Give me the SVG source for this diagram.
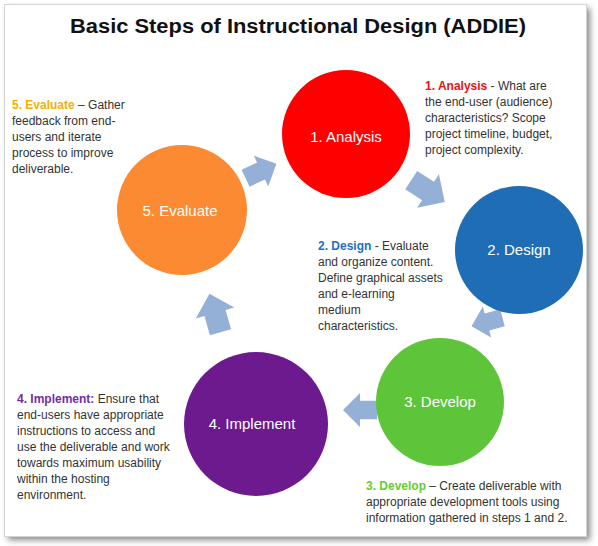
<svg xmlns="http://www.w3.org/2000/svg" width="598" height="546" viewBox="0 0 598 546">
<defs>
<filter id="sh" x="-5%" y="-5%" width="115%" height="115%"><feGaussianBlur stdDeviation="3"/></filter>
<path id="arr" d="M-20,-11 L0,-11 L0,-20 L20,0 L0,20 L0,11 L-20,11 Z"/>
</defs>
<style>
.t{font-family:"Liberation Sans",Arial,sans-serif;font-size:12px;fill:#333333}
.h{font-weight:bold}
.lbl{font-family:"Liberation Sans",Arial,sans-serif;font-size:15px;fill:#ffffff;text-anchor:middle}
.ar{fill:#95b0d6}
</style>
<rect width="598" height="546" fill="#ffffff"/>
<rect x="8" y="8" width="582" height="532" fill="#888888" filter="url(#sh)"/>
<rect x="4.5" y="4.5" width="582" height="532" fill="#ffffff" stroke="#d4d4d4"/>
<text x="298" y="33" text-anchor="middle" textLength="456" lengthAdjust="spacingAndGlyphs" style="font-family:'Liberation Sans',Arial,sans-serif;font-size:20px;font-weight:bold;fill:#111111">Basic Steps of Instructional Design (ADDIE)</text>

<g id="connectors">
<use href="#arr" class="ar" transform="translate(261,171) rotate(-25) scale(0.85)"/>
<use href="#arr" class="ar" transform="translate(428,191) rotate(33)"/>
<use href="#arr" class="ar" transform="translate(487,322) rotate(165) scale(0.8)"/>
<use href="#arr" class="ar" transform="translate(360,410) rotate(180) scale(0.85)"/>
<use href="#arr" class="ar" transform="translate(215,313) rotate(-106)"/>
</g>

<g id="analysis">
<circle cx="346" cy="134" r="64" fill="#fe0000"/>
<text class="lbl" x="346" y="142">1. Analysis</text>
</g>
<g id="design">
<circle cx="519" cy="250" r="64" fill="#1f6db5"/>
<text class="lbl" x="519" y="255">2. Design</text>
</g>
<g id="develop">
<circle cx="440" cy="402" r="64" fill="#5ec43a"/>
<text class="lbl" x="440" y="407">3. Develop</text>
</g>
<g id="implement">
<circle cx="256" cy="424" r="72" fill="#6c1a8e"/>
<text class="lbl" x="252" y="429">4. Implement</text>
</g>
<g id="evaluate">
<circle cx="182" cy="210" r="65" fill="#fb8a32"/>
<text class="lbl" x="180" y="216">5. Evaluate</text>
</g>

<g id="evaluate-text">
<text class="t" x="12" y="109"><tspan class="h" fill="#f5b000">5. Evaluate</tspan> – Gather</text>
<text class="t" x="12" y="125">feedback from end-</text>
<text class="t" x="12" y="141">users and iterate</text>
<text class="t" x="12" y="157">process to improve</text>
<text class="t" x="12" y="173">deliverable.</text>
</g>
<g id="analysis-text">
<text class="t" x="425" y="90"><tspan class="h" fill="#ee1111">1. Analysis</tspan> - What are</text>
<text class="t" x="425" y="106">the end-user (audience)</text>
<text class="t" x="425" y="122">characteristics? Scope</text>
<text class="t" x="425" y="138">project timeline, budget,</text>
<text class="t" x="425" y="154">project complexity.</text>
</g>
<g id="design-text">
<text class="t" x="318" y="250"><tspan class="h" fill="#1f6fc0">2. Design</tspan> - Evaluate</text>
<text class="t" x="318" y="266">and organize  content.</text>
<text class="t" x="318" y="282">Define graphical assets</text>
<text class="t" x="318" y="298">and e-learning</text>
<text class="t" x="318" y="314">medium</text>
<text class="t" x="318" y="330">characteristics.</text>
</g>
<g id="implement-text">
<text class="t" x="17" y="403"><tspan class="h" fill="#7030a0">4. Implement:</tspan>  Ensure that</text>
<text class="t" x="17" y="419">end-users have appropriate</text>
<text class="t" x="17" y="435">instructions to access  and</text>
<text class="t" x="17" y="451">use the deliverable and work</text>
<text class="t" x="17" y="467">towards maximum usability</text>
<text class="t" x="17" y="483">within the hosting</text>
<text class="t" x="17" y="499">environment.</text>
</g>
<g id="develop-text">
<text class="t" x="366" y="490"><tspan class="h" fill="#66cc33">3. Develop</tspan> – Create deliverable with</text>
<text class="t" x="366" y="506">appropriate development tools using</text>
<text class="t" x="366" y="522">information gathered in steps 1 and 2.</text>
</g>
</svg>
